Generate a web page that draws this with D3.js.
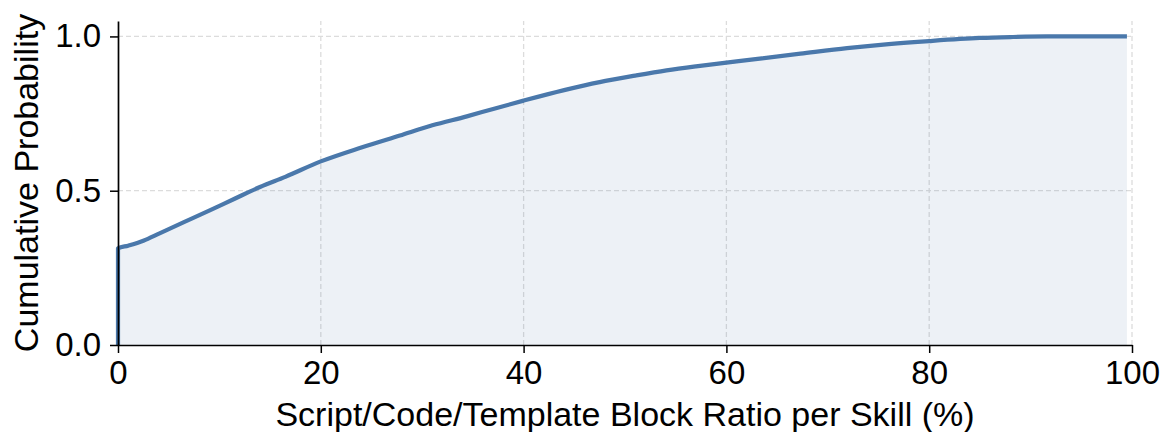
<!DOCTYPE html>
<html>
<head>
<meta charset="utf-8">
<script src="https://cdn.jsdelivr.net/npm/d3@7"></script>
<style>
  body { margin: 0; background: #fff; }
  svg { display: block; font-family: "Liberation Sans", Arial, sans-serif; }
  .axis path, .axis line { stroke: #000; }
  .axis text { font-size: 33px; fill: #000; }
  .label { font-size: 34px; fill: #000; }
</style>
</head>
<body>
<script>
  const width = 1167;
  const height = 432;
  const margins = { top: 21, right: 35, bottom: 87, left: 118 };

  // block ratio (%) vs cumulative probability
  const ratio = [0, 0, 1, 2.5, 4.1, 6.5, 9.1, 11.5, 14, 16.5, 20, 24, 27.8, 31, 34.4, 37, 40, 44,
    47.5, 51, 54.1, 57, 60, 63.5, 67.3, 71.9, 76, 80, 85, 88, 91.6, 95, 99.5];
  const cumProb = [0, 0.313, 0.322, 0.338, 0.362, 0.398, 0.437, 0.474, 0.512, 0.545, 0.595, 0.64,
    0.679, 0.712, 0.741, 0.765, 0.792, 0.826, 0.852, 0.873, 0.89, 0.903, 0.915, 0.929, 0.944,
    0.962, 0.975, 0.985, 0.995, 0.998, 1.0, 1.0, 1.0];
  const xTicks = [0, 20, 40, 60, 80, 100];
  const yTicks = [0, 0.5, 1.0];

  const data = ratio.map((r, i) => ({ x: r, y: cumProb[i] }));

  const svg = d3.select("body").append("svg")
    .attr("width", width)
    .attr("height", height);

  const x = d3.scaleLinear()
    .domain([0, 100])
    .range([margins.left, width - margins.right]);

  const y = d3.scaleLinear()
    .domain([0, 1.05])
    .range([height - margins.bottom, margins.top]);

  // grid
  svg.append("g")
    .selectAll("line")
    .data(xTicks.slice(1))
    .enter()
    .append("line")
    .attr("x1", d => x(d))
    .attr("x2", d => x(d))
    .attr("y1", y(0))
    .attr("y2", y(1.05))
    .attr("stroke", "#dcdcdc")
    .attr("stroke-width", 1.3)
    .attr("stroke-dasharray", "5,3");

  svg.append("g")
    .selectAll("line")
    .data(yTicks.slice(1))
    .enter()
    .append("line")
    .attr("x1", x(0))
    .attr("x2", x(100))
    .attr("y1", d => y(d))
    .attr("y2", d => y(d))
    .attr("stroke", "#dcdcdc")
    .attr("stroke-width", 1.3)
    .attr("stroke-dasharray", "5,3");

  const area = d3.area()
    .x(d => x(d.x))
    .y0(y(0))
    .y1(d => y(d.y))
    .curve(d3.curveMonotoneX);

  svg.append("path")
    .datum(data)
    .attr("d", area)
    .attr("fill", "#4a78ab")
    .attr("fill-opacity", 0.1);

  const line = d3.line()
    .x(d => x(d.x))
    .y(d => y(d.y))
    .curve(d3.curveMonotoneX);

  svg.append("path")
    .datum(data)
    .attr("d", line)
    .attr("fill", "none")
    .attr("stroke", "#4a78ab")
    .attr("stroke-width", 4.2)
    .attr("stroke-linejoin", "round");

  // axes
  svg.append("g")
    .attr("class", "axis")
    .attr("transform", "translate(0," + y(0) + ")")
    .call(d3.axisBottom(x).tickValues(xTicks).tickSize(8).tickPadding(8).tickSizeOuter(0))
    .call(g => g.select(".domain").attr("stroke-width", 1.7))
    .call(g => g.selectAll(".tick line").attr("stroke-width", 1.5));

  svg.append("g")
    .attr("class", "axis")
    .attr("transform", "translate(" + x(0) + ",0)")
    .call(d3.axisLeft(y).tickValues(yTicks).tickFormat(d3.format(".1f")).tickSize(8).tickPadding(9).tickSizeOuter(0))
    .call(g => g.select(".domain").attr("stroke-width", 1.7))
    .call(g => g.selectAll(".tick line").attr("stroke-width", 1.5));

  svg.selectAll(".axis text").attr("font-family", null);

  svg.append("text")
    .attr("class", "label")
    .attr("x", (x(0) + x(100)) / 2)
    .attr("y", 426)
    .attr("text-anchor", "middle")
    .text("Script/Code/Template Block Ratio per Skill (%)");

  svg.append("text")
    .attr("class", "label")
    .attr("transform", "translate(38," + (y(0) + y(1.05)) / 2 + ") rotate(-90)")
    .attr("text-anchor", "middle")
    .text("Cumulative Probability");
</script>
</body>
</html>
